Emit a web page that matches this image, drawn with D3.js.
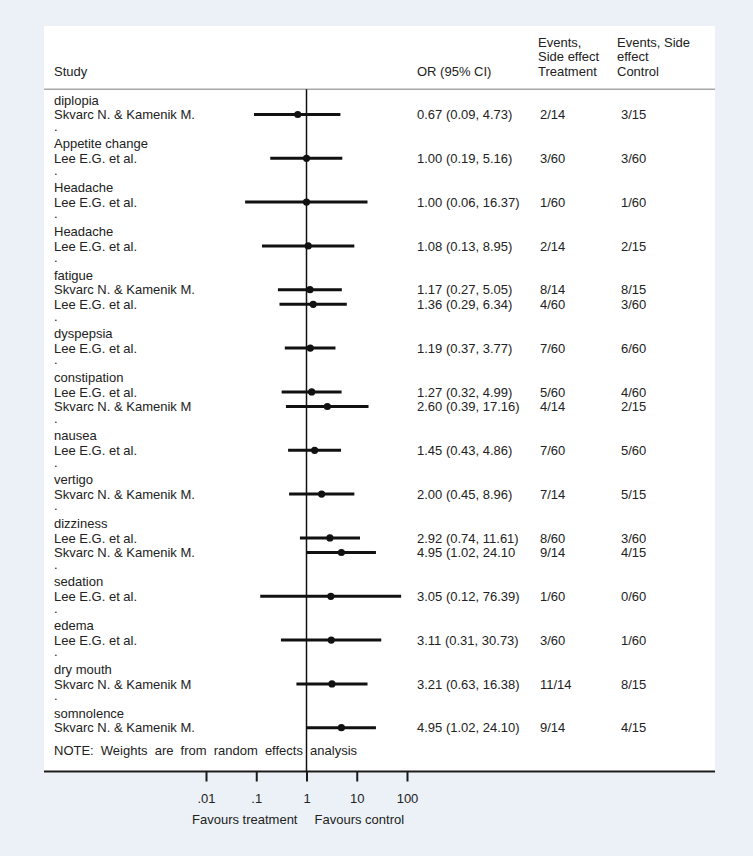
<!DOCTYPE html>
<html><head><meta charset="utf-8">
<script src="https://cdn.jsdelivr.net/npm/d3@7/dist/d3.min.js"></script>
<style>
html,body{margin:0;padding:0;background:#ebf1f6;}
svg{display:block;font-family:"Liberation Sans",Arial,Helvetica,sans-serif;}
</style></head>
<body><svg id="chart" width="753" height="856"></svg>
<script>
// ---- data ----
const groups = ["diplopia","Appetite change","Headache","Headache","fatigue","dyspepsia","constipation","nausea","vertigo","dizziness","sedation","edema","dry mouth","somnolence"];
const studyGroup = [0,1,2,3,4,4,5,6,6,7,8,9,9,10,11,12,13];
const studyNames = ["Skvarc N. & Kamenik M.","Lee E.G. et al.","Lee E.G. et al.","Lee E.G. et al.","Skvarc N. & Kamenik M.","Lee E.G. et al.","Lee E.G. et al.","Lee E.G. et al.","Skvarc N. & Kamenik M","Lee E.G. et al.","Skvarc N. & Kamenik M.","Lee E.G. et al.","Skvarc N. & Kamenik M.","Lee E.G. et al.","Lee E.G. et al.","Skvarc N. & Kamenik M","Skvarc N. & Kamenik M."];
const orValues = [0.67,1.00,1.00,1.08,1.17,1.36,1.19,1.27,2.60,1.45,2.00,2.92,4.95,3.05,3.11,3.21,4.95];
const ciLower  = [0.09,0.19,0.06,0.13,0.27,0.29,0.37,0.32,0.39,0.43,0.45,0.74,1.02,0.12,0.31,0.63,1.02];
const ciUpper  = [4.73,5.16,16.37,8.95,5.05,6.34,3.77,4.99,17.16,4.86,8.96,11.61,24.10,76.39,30.73,16.38,24.10];
const orLabels = ["0.67 (0.09, 4.73)","1.00 (0.19, 5.16)","1.00 (0.06, 16.37)","1.08 (0.13, 8.95)","1.17 (0.27, 5.05)","1.36 (0.29, 6.34)","1.19 (0.37, 3.77)","1.27 (0.32, 4.99)","2.60 (0.39, 17.16)","1.45 (0.43, 4.86)","2.00 (0.45, 8.96)","2.92 (0.74, 11.61)","4.95 (1.02, 24.10","3.05 (0.12, 76.39)","3.11 (0.31, 30.73)","3.21 (0.63, 16.38)","4.95 (1.02, 24.10)"];
const treatEvents   = ["2/14","3/60","1/60","2/14","8/14","4/60","7/60","5/60","4/14","7/60","7/14","8/60","9/14","1/60","3/60","11/14","9/14"];
const controlEvents = ["3/15","3/60","1/60","2/15","8/15","3/60","6/60","4/60","2/15","5/60","5/15","3/60","4/15","0/60","1/60","8/15","4/15"];
const tickValues = [0.01,0.1,1,10,100];
const tickLabels = [".01",".1","1","10","100"];
const headerStudy = "Study", headerOR = "OR (95% CI)";
const headerTreat = ["Events,","Side effect","Treatment"];
const headerControl = ["Events, Side","effect","Control"];
const noteText = "NOTE: Weights are from random effects analysis";
const axisLabels = ["Favours treatment","Favours control"];

// ---- build line layout ----
const lines = []; // {type, text, study}
groups.forEach((g, gi) => {
  lines.push({type:"group", text:g});
  studyGroup.forEach((sg, si) => { if (sg === gi) lines.push({type:"study", idx:si}); });
  if (gi < groups.length - 1) lines.push({type:"dot", text:"."});
});
lines.forEach((l,i)=> l.line = i);

const svg = d3.select("#chart");
const panel = {x0:44, x1:715, y0:26, y1:773};
const fs = 13, col = "#222";
const colStudy = 54, colOR = 417, colT = 540, colC = 621, colTh = 538, colCh = 617;

svg.append("rect").attr("x",panel.x0).attr("y",panel.y0).attr("width",panel.x1-panel.x0).attr("height",panel.y1-panel.y0).attr("fill","#fff");

const y = d3.scaleLinear().domain([0, lines.length-1]).range([99.9, 727.7]);
const x = d3.scaleLog().domain([0.01, 100]).range([206, 407]);
const axisY = 771.5;

// header
const hy = [42.5, 56.8, 71];
function txt(xp, yp, t){ return svg.append("text").attr("x",xp).attr("y",yp).attr("dy","0.36em").attr("font-size",fs).attr("fill",col).text(t); }
txt(colStudy, hy[2], headerStudy);
txt(colOR, hy[2], headerOR);
headerTreat.forEach((t,i)=>txt(colTh, hy[i], t));
headerControl.forEach((t,i)=>txt(colCh, hy[i], t));
svg.append("line").attr("x1",panel.x0).attr("x2",panel.x1).attr("y1",89.3).attr("y2",89.3).attr("stroke","#a8a8a8").attr("stroke-width",1.5);

// reference line at 1
svg.append("line").attr("x1",x(1)).attr("x2",x(1)).attr("y1",89.3).attr("y2",axisY).attr("stroke","#111").attr("stroke-width",1.5);

// rows
lines.forEach(l => {
  const yy = y(l.line);
  if (l.type === "group" || l.type === "dot") {
    txt(colStudy, l.type==="dot" ? yy-3 : yy, l.text);
  } else {
    const i = l.idx;
    txt(colStudy, yy, studyNames[i]);
    txt(colOR, yy, orLabels[i]);
    txt(colT, yy, treatEvents[i]);
    txt(colC, yy, controlEvents[i]);
    svg.append("line").attr("x1",x(ciLower[i])).attr("x2",x(ciUpper[i])).attr("y1",yy).attr("y2",yy).attr("stroke","#111").attr("stroke-width",3);
    svg.append("circle").attr("cx",x(orValues[i])).attr("cy",yy).attr("r",3.6).attr("fill","#111");
  }
});

// note
txt(colStudy, 750, noteText).attr("word-spacing", 3.5);

// axis
svg.append("line").attr("x1",panel.x0).attr("x2",panel.x1).attr("y1",axisY).attr("y2",axisY).attr("stroke","#1a1a1a").attr("stroke-width",2.2);
const ax = svg.append("g").attr("transform",`translate(0,${axisY})`)
  .call(d3.axisBottom(x).tickValues(tickValues).tickFormat((d,i)=>tickLabels[i]).tickSize(10).tickPadding(12));
ax.select(".domain").remove();
ax.selectAll(".tick line").attr("stroke","#1a1a1a").attr("stroke-width",2);
ax.selectAll(".tick text").attr("font-size",fs).attr("fill",col).attr("font-family","Liberation Sans, Arial, sans-serif");
svg.append("text").attr("x",x(1)-9).attr("y",819).attr("dy","0.36em").attr("text-anchor","end").attr("font-size",fs).attr("fill",col).text(axisLabels[0]);
svg.append("text").attr("x",x(1)+8).attr("y",819).attr("dy","0.36em").attr("text-anchor","start").attr("font-size",fs).attr("fill",col).text(axisLabels[1]);
</script></body></html>
